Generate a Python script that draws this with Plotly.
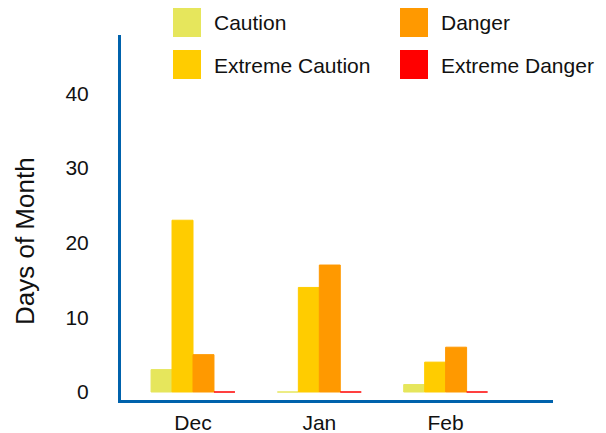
import plotly.graph_objects as go

months = ["Dec", "Jan", "Feb"]
series_names = ["Caution", "Extreme Caution", "Danger", "Extreme Danger"]
caution = [3, 0, 1]
extreme_caution = [23, 14, 4]
danger = [5, 17, 6]
extreme_danger = [0, 0, 0]
y_ticks = [0, 10, 20, 30, 40]

values = [caution, extreme_caution, danger, extreme_danger]
colors = ["#E6E65C", "#FFCC00", "#FF9900", "#FF0000"]
axis_blue = "#0062AC"
FONT = "Liberation Sans, Arial, sans-serif"

W, H = 590, 425
L, R, T, B = 113, 45, 27, 33
pw, ph = W - L - R, H - T - B

fig = go.Figure()
for name, vals, col in zip(series_names, values, colors):
    fig.add_trace(go.Bar(
        x=months, y=vals, name=name,
        marker=dict(color=col, line=dict(color=col, width=1)),
        showlegend=False,
    ))

# Custom legend (2 x 2 grid with large square swatches)
legend_pos = {
    "Caution": (165, 0),
    "Danger": (392, 0),
    "Extreme Caution": (165, 42),
    "Extreme Danger": (392, 42),
}
shapes = []
annotations = []
def px_x(v):
    return (v - L) / pw
def px_y(v):
    return (H - B - v) / ph
for name, col in zip(series_names, colors):
    sx, sy = legend_pos[name]
    shapes.append(dict(type="rect", xref="paper", yref="paper",
                       x0=px_x(sx), x1=px_x(sx + 28), y0=px_y(sy + 29), y1=px_y(sy),
                       fillcolor=col, line=dict(width=0)))
    annotations.append(dict(text=name, xref="paper", yref="paper",
                            x=px_x(sx + 39), y=px_y(sy + 15), xanchor="left", yanchor="middle",
                            showarrow=False, font=dict(size=21, color="#111111", family=FONT)))

annotations.append(dict(text="Days of Month", xref="paper", yref="paper",
                        x=px_x(17), y=px_y(233), textangle=-90,
                        xanchor="center", yanchor="middle", showarrow=False,
                        font=dict(size=26, color="#111111", family=FONT)))

fig.update_layout(
    width=W, height=H,
    margin=dict(l=L, r=R, t=T, b=B, pad=0, autoexpand=False),
    paper_bgcolor="white", plot_bgcolor="white",
    barmode="group", bargap=0.336, bargroupgap=0,
    font=dict(family=FONT, size=21, color="#111111"),
    shapes=shapes, annotations=annotations,
    xaxis=dict(range=[-0.57, 2.85], showline=True, linecolor=axis_blue, linewidth=3,
               showgrid=False, zeroline=False, ticks="", ticklabelstandoff=2,
               automargin=False, tickfont=dict(size=21)),
    yaxis=dict(range=[-1.07, 47.8], showline=True, linecolor=axis_blue, linewidth=3,
               showgrid=False, zeroline=False, ticks="", tickvals=y_ticks,
               automargin=False, ticklabelstandoff=25, tickfont=dict(size=21)),
)

fig.write_html("out.html")
